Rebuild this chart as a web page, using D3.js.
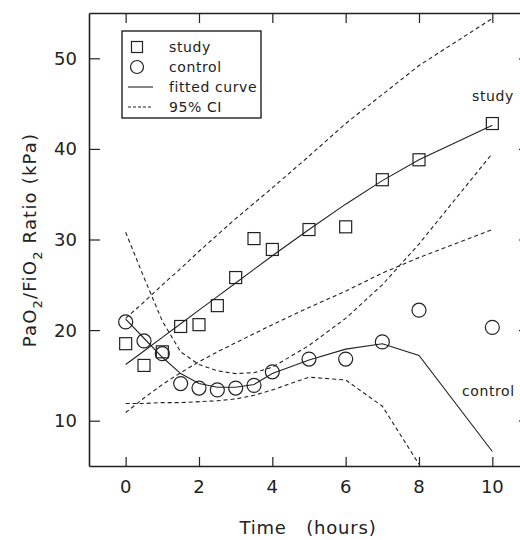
<html>
  <head>
    <script src="https://d3js.org/d3.v7.min.js"></script>
    <style>
      body { margin: 0; background: white; }
      text { font-family: "DejaVu Sans", sans-serif; fill: #222; }
    </style>
  </head>
  <body>
    <script>
      // measured points
      var times = [0, 0.5, 1, 1.5, 2, 2.5, 3, 3.5, 4, 5, 6, 7, 8, 10]
      var study = [18.5, 16.1, 17.6, 20.4, 20.6, 22.7, 25.8, 30.1, 28.9, 31.1, 31.4, 36.6, 38.8, 42.8]
      var control = [20.9, 18.8, 17.4, 14.1, 13.6, 13.4, 13.6, 13.9, 15.4, 16.8, 16.8, 18.7, 22.2, 20.3]

      // fitted curves and 95% CI
      var studyFit = [16.2, 17.7, 19.2, 20.7, 22.2, 23.7, 25.2, 26.7, 28.2, 31.1, 33.9, 36.5, 38.8, 42.6]
      var studyUpper = [21.3, 23.1, 25.0, 26.8, 28.7, 30.5, 32.3, 34.0, 35.7, 39.2, 42.8, 46.0, 49.2, 54.4]
      var studyLower = [10.9, 12.5, 14.0, 15.3, 16.5, 17.6, 18.6, 19.6, 20.6, 22.5, 24.3, 26.3, 28.0, 31.1]
      var controlFit = [21.2, 19.1, 17.0, 15.2, 14.1, 13.7, 13.7, 14.0, 15.2, 16.7, 17.9, 18.5, 17.2, 6.6]
      var controlUpper = [30.8, 25.8, 21.0, 17.6, 16.2, 15.5, 15.2, 15.3, 15.9, 18.3, 21.3, 25.0, 29.5, 39.5]
      var controlLower = [11.9, 11.9, 12.0, 12.0, 12.1, 12.2, 12.4, 12.8, 13.4, 14.8, 14.5, 11.6, 5.2, null]

      var xTicks = [0, 2, 4, 6, 8, 10]
      var yTicks = [10, 20, 30, 40, 50]
      var legendItems = ["study", "control", "fitted curve", "95% CI"]

      var width = 520
      var height = 540
      var plotL = 89, plotR = 529, plotT = 13, plotB = 466

      var svg = d3.select("body").append("svg")
      .attr("width", width)
      .attr("height", height);

      var x = d3.scaleLinear().domain([-1, 11]).range([plotL, plotR])
      var y = d3.scaleLinear().domain([5, 55]).range([plotB, plotT])

      svg.append("clipPath").attr("id", "plot")
      .append("rect")
      .attr("x", plotL).attr("y", plotT)
      .attr("width", plotR - plotL).attr("height", plotB - plotT);

      var ink = "#222"

      // axes: ticks point inward on all four sides
      svg.append("g").attr("transform", "translate(0," + plotB + ")")
      .call(d3.axisBottom(x).tickValues(xTicks).tickSizeInner(-9).tickSizeOuter(0).tickFormat(""));
      svg.append("g").attr("transform", "translate(0," + plotT + ")")
      .call(d3.axisTop(x).tickValues(xTicks).tickSizeInner(-10).tickSizeOuter(0).tickFormat(""));
      svg.append("g").attr("transform", "translate(" + plotL + ",0)")
      .call(d3.axisLeft(y).tickValues(yTicks).tickSizeInner(-11).tickSizeOuter(0).tickFormat(""));
      svg.append("g").attr("transform", "translate(" + plotR + ",0)")
      .call(d3.axisRight(y).tickValues(yTicks).tickSizeInner(-10).tickSizeOuter(0).tickFormat(""));
      svg.selectAll(".domain").style("stroke", ink).style("stroke-width", 1.6);
      svg.selectAll(".tick line").style("stroke", ink).style("stroke-width", 1.2);

      // tick labels
      svg.selectAll(".xlab").data(xTicks).enter().append("text")
      .attr("x", d => x(d)).attr("y", 493)
      .attr("text-anchor", "middle")
      .style("font-size", "18px")
      .text(d => d);
      svg.selectAll(".ylab").data(yTicks).enter().append("text")
      .attr("x", 77).attr("y", d => y(d) + 6.5)
      .attr("text-anchor", "end")
      .style("font-size", "18px")
      .text(d => d);

      // axis titles
      svg.append("text")
      .attr("x", 308).attr("y", 534)
      .attr("text-anchor", "middle")
      .style("font-size", "18px")
      .style("letter-spacing", "0.8px")
      .style("white-space", "pre")
      .text("Time   (hours)");

      var yt = svg.append("text")
      .attr("transform", "translate(36,240) rotate(-90)")
      .attr("text-anchor", "middle")
      .style("font-size", "18px")
      .style("letter-spacing", "1.2px");
      yt.append("tspan").text("PaO");
      yt.append("tspan").attr("dy", 6).style("font-size", "13px").text("2");
      yt.append("tspan").attr("dy", -6).text("/FiO");
      yt.append("tspan").attr("dy", 6).style("font-size", "13px").text("2");
      yt.append("tspan").attr("dy", -6).text(" Ratio (kPa)");

      // curves
      var plot = svg.append("g").attr("clip-path", "url(#plot)")
      function curve(vals, dashed) {
        var line = d3.line()
        .defined((d, i) => vals[i] != null)
        .x((d, i) => x(times[i]))
        .y((d, i) => y(vals[i]));
        plot.append("path")
        .datum(vals)
        .attr("d", line)
        .style("fill", "none")
        .style("stroke", ink)
        .style("stroke-width", 1.1)
        .style("stroke-dasharray", dashed ? "4,3" : null);
      }
      curve(studyFit, false)
      curve(controlFit, false)
      curve(studyUpper, true)
      curve(studyLower, true)
      curve(controlUpper, true)
      curve(controlLower, true)

      // points
      var sq = 12
      plot.selectAll(".sq").data(study).enter().append("rect")
      .attr("x", (d, i) => x(times[i]) - sq / 2)
      .attr("y", d => y(d) - sq / 2)
      .attr("width", sq).attr("height", sq)
      .style("fill", "none").style("stroke", ink).style("stroke-width", 1.2);
      plot.selectAll(".ci").data(control).enter().append("circle")
      .attr("cx", (d, i) => x(times[i]))
      .attr("cy", d => y(d))
      .attr("r", 7)
      .style("fill", "none").style("stroke", ink).style("stroke-width", 1.2);

      // curve labels
      svg.append("text").attr("x", 472).attr("y", 101)
      .style("font-size", "14px").style("letter-spacing", "0.6px").text("study");
      svg.append("text").attr("x", 462).attr("y", 396)
      .style("font-size", "14px").style("letter-spacing", "0.6px").text("control");

      // legend
      svg.append("rect")
      .attr("x", 122).attr("y", 31)
      .attr("width", 139).attr("height", 87)
      .style("fill", "white").style("stroke", ink).style("stroke-width", 1.4);

      var ly = [47, 67, 87, 107]
      svg.append("rect")
      .attr("x", 137 - 5.5).attr("y", ly[0] - 5.5).attr("width", 11).attr("height", 11)
      .style("fill", "none").style("stroke", ink).style("stroke-width", 1.2);
      svg.append("circle")
      .attr("cx", 137).attr("cy", ly[1]).attr("r", 6.5)
      .style("fill", "none").style("stroke", ink).style("stroke-width", 1.2);
      svg.append("line")
      .attr("x1", 128).attr("x2", 153).attr("y1", ly[2]).attr("y2", ly[2])
      .style("stroke", ink).style("stroke-width", 1.1);
      svg.append("line")
      .attr("x1", 128).attr("x2", 153).attr("y1", ly[3]).attr("y2", ly[3])
      .style("stroke", ink).style("stroke-width", 1.1).style("stroke-dasharray", "3,2");

      svg.selectAll(".leg").data(legendItems).enter().append("text")
      .attr("x", 169).attr("y", (d, i) => ly[i] + 5)
      .style("font-size", "14px")
      .style("letter-spacing", "0.6px")
      .text(d => d);
    </script>
  </body>
</html>
